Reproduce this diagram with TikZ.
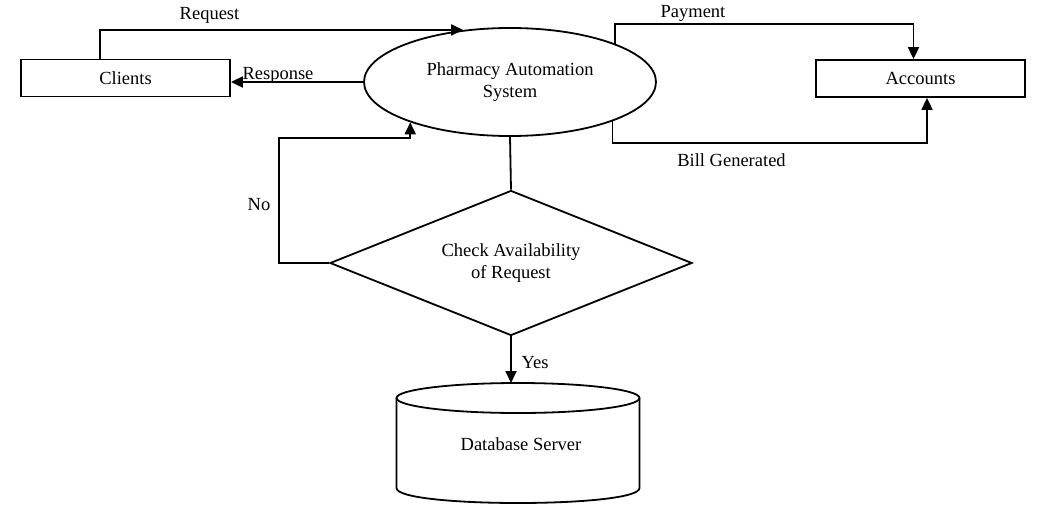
\documentclass[tikz,border=0pt]{standalone}
\usepackage{fontspec}
\setmainfont{Liberation Serif}
\usetikzlibrary{shapes.geometric,arrows.meta,calc}
\tikzset{
  box/.style={draw,line width=1.8pt,minimum width=209pt,minimum height=37pt,inner sep=0pt},
  conn/.style={line width=1.8pt},
  arr/.style={line width=1.8pt,-{Triangle[length=12pt,width=11pt]}},
  lbl/.style={inner sep=0pt},
}
\begin{document}
\begin{tikzpicture}[x=1pt,y=-1pt,font=\fontsize{18.5}{22}\selectfont]
\useasboundingbox (0,0) rectangle (1044,509);
% nodes
\node[box] (clients) at (125.5,78) {Clients};
\node[box] (accounts) at (920.5,78.5) {Accounts};
\node[draw,ellipse,line width=1.8pt,minimum width=292pt,minimum height=108pt,inner sep=0pt,align=center] (pas) at (510,82) {Pharmacy Automation\\System};
\node[draw,diamond,line width=1.8pt,minimum width=362pt,minimum height=145pt,aspect=2.5,inner sep=0pt,align=center] (check) at (511,263) {Check Availability\\of Request};
% cylinder
\node[lbl] (db) at (521,444) {Database Server};
\coordinate (dbtop) at (518,383);
\draw[line width=1.8pt] (518,398) ellipse [x radius=121.5pt, y radius=15pt];
\draw[line width=1.8pt] (396.5,398) -- (396.5,488) .. controls (396.5,508) and (639.5,508) .. (639.5,488) -- (639.5,398);
% connectors
\draw[arr] ([xshift=80pt]clients.north west) |- (pas.132);
\node[lbl] (lreq) at (209.5,15) {Request};
\draw[arr] (pas.west) -- (pas.west -| clients.east);
\node[lbl,anchor=base] (lresp) at (278,79) {Response};
\draw[arr] (pas.20) -- ++(0,-20) -| ([xshift=-7pt]accounts.north);
\node[lbl] (lpay) at (693,13) {Payment};
\draw[arr] (pas.-21) -- ++(0,22) -| ([xshift=6.5pt]accounts.south);
\node[lbl] (lbill) at (731.5,160) {Bill Generated};
\draw[conn] (pas.south) -- (check.north);
\draw[arr] (check.west) -- ++(-50,0) |- ($(pas.202)+(0,16)$) -- (pas.202);
\node[lbl] (lno) at (259,205) {No};
\draw[arr] (check.south) -- (check.south |- dbtop);
\node[lbl] (lyes) at (535,363) {Yes};
\end{tikzpicture}
\end{document}
